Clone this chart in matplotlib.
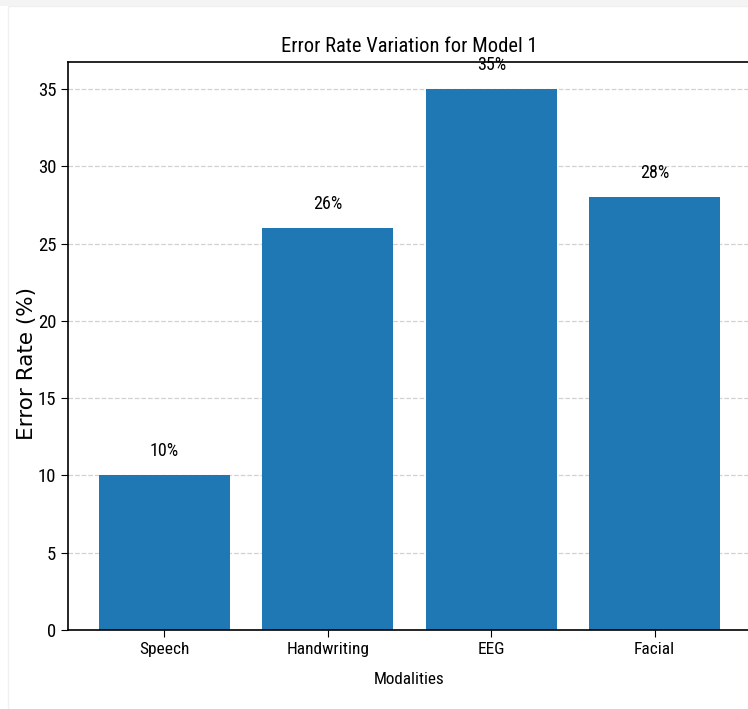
import matplotlib
matplotlib.use("Agg")
import matplotlib.pyplot as plt
from matplotlib import font_manager
from matplotlib.patches import Rectangle

modalities = ["Speech", "Handwriting", "EEG", "Facial"]
error_rates = [10, 26, 35, 28]
bar_labels = ["10%", "26%", "35%", "28%"]

available = {f.name for f in font_manager.fontManager.ttflist}
narrow = next((n for n in ["Roboto Condensed", "Liberation Sans Narrow", "DejaVu Sans Condensed"]
               if n in available), "DejaVu Sans")
plt.rcParams["font.family"] = [narrow, "DejaVu Sans"]

fig = plt.figure(figsize=(7.48, 7.09), dpi=100)
W, H = 748, 709

# faint page frame
fig.patches.append(Rectangle((0, (H - 6) / H), 1, 6 / H, transform=fig.transFigure,
                             facecolor="#f4f4f4", edgecolor="none", zorder=-5))
fig.patches.append(Rectangle((8 / W, -0.01), 1, (H - 6) / H + 0.01, transform=fig.transFigure,
                             facecolor="white", edgecolor="#f0f0f0", lw=1, zorder=-4))

ax = fig.add_axes([68 / W, (H - 630) / H, (751 - 68) / W, (630 - 62) / H])
ax.set_axisbelow(True)
ax.yaxis.grid(True, linestyle="--", color="#cccccc", alpha=0.9, linewidth=0.9)

bars = ax.bar(modalities, error_rates, color="#1f77b4", width=0.8)
for rect, value, text in zip(bars, error_rates, bar_labels):
    ax.text(rect.get_x() + rect.get_width() / 2, value + 1, text,
            ha="center", va="bottom", fontsize=13)

ax.set_title("Error Rate Variation for Model 1", fontsize=14.8, pad=7)
ax.set_xlabel("Modalities", fontsize=12.3, labelpad=11)
ax.set_ylabel("Error Rate (%)", fontsize=15.5, family="DejaVu Sans",
              ha="center", va="center")
ax.yaxis.set_label_coords((27.5 - 68) / 683, (630 - 363) / 568)
ax.set_yticks([0, 5, 10, 15, 20, 25, 30, 35])
ax.tick_params(axis="x", labelsize=12.5, length=5)
ax.tick_params(axis="y", labelsize=13.5, length=5)
for side in ["top", "right", "left", "bottom"]:
    ax.spines[side].set_linewidth(1.2)

fig.savefig("out.png", dpi=100)
